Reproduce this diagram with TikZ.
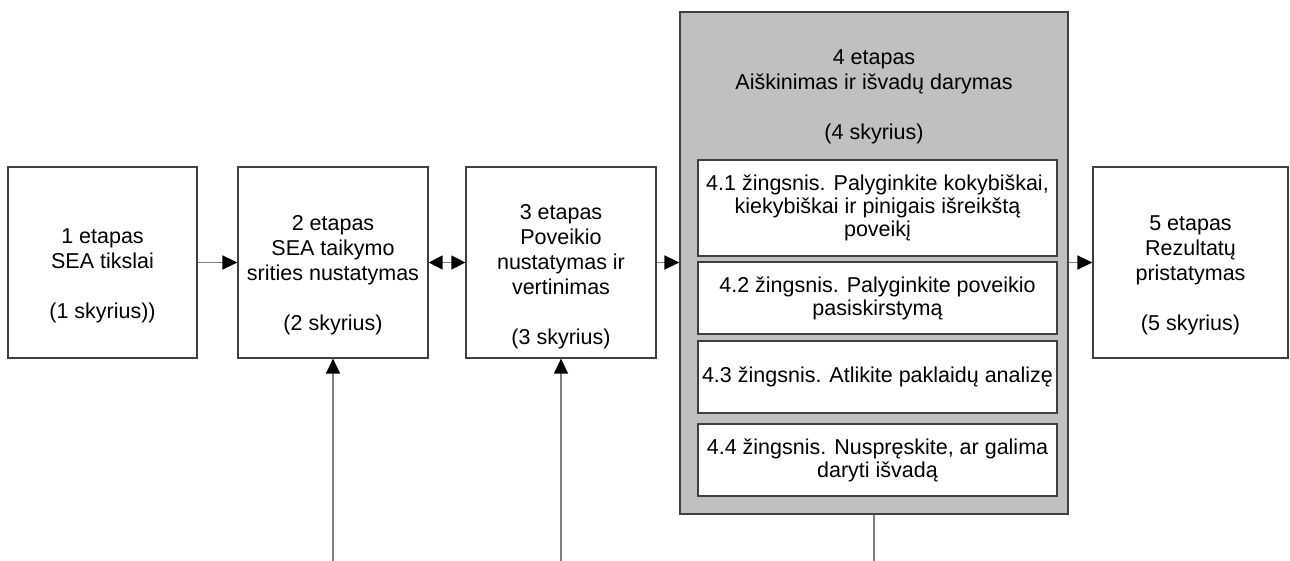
\documentclass[tikz,border=0pt]{standalone}
\usepackage{fontspec}
\setmainfont{Liberation Sans}
\usetikzlibrary{arrows.meta}
\definecolor{edge}{HTML}{404040}
\definecolor{wire}{HTML}{7F7F7F}
\definecolor{panel}{HTML}{C0C0C0}

\begin{document}
\begin{tikzpicture}[x=1pt,y=-1pt,
  box/.style={draw=edge, line width=1.2pt, fill=white, inner sep=0pt},
  stage/.style={box, minimum width=190pt, minimum height=191pt},
  stepbox/.style={box, minimum width=359pt, minimum height=72pt},
  label/.style={align=center, inner sep=0pt, font=\fontsize{21.5}{25}\selectfont},
  steplabel/.style={align=center, inner sep=0pt, font=\fontsize{21.5}{23}\selectfont},
  wire/.style={draw=wire, line width=1.3pt},
  tip/.style={wire, -{Triangle[length=15pt,width=14pt,color=black,fill=black]}},
  twotip/.style={wire, {Triangle[length=14pt,width=14pt,color=black,fill=black]}-{Triangle[length=14pt,width=14pt,color=black,fill=black]}}
]
\useasboundingbox (0,0) rectangle (1290,561);

% stage boxes
\node[stage, minimum width=189pt] (b1) at (102.5,262.5) {};
\node[stage] (b2) at (333,262.5) {};
\node[stage] (b3) at (561,262.5) {};
\node[box, fill=panel, minimum width=388pt, minimum height=502pt] (g) at (874,263) {};
\node[stage, minimum width=195pt] (b5) at (1190.5,262.5) {};

% steps inside stage 4
\node[stepbox, minimum height=96pt] (s1) at (877.5,208) {};
\node[stepbox] (s2) at (877.5,298) {};
\node[stepbox] (s3) at (877.5,377) {};
\node[stepbox] (s4) at (877.5,460) {};

% texts
\node[label] (t1) at (102.5,275.5) {1 etapas\\SEA tikslai\\[25pt](1 skyrius))};
\node[label] (t2) at (333,275) {2 etapas\\SEA taikymo\\srities nustatymas\\[25pt](2 skyrius)};
\node[label] (t3) at (561,276.5) {3 etapas\\Poveikio\\nustatymas ir\\vertinimas\\[25pt](3 skyrius)};
\node[label] (t4) at (874,97) {4 etapas\\Aiškinimas ir išvadų darymas\\[25pt](4 skyrius)};
\node[label] (t5) at (1190.5,275) {5 etapas\\Rezultatų\\pristatymas\\[25pt](5 skyrius)};

\node[steplabel] (u1) at (s1) {4.1 žingsnis. Palyginkite kokybiškai,\\kiekybiškai ir pinigais išreikštą\\poveikį};
\node[steplabel] (u2) at (s2) {4.2 žingsnis. Palyginkite poveikio\\pasiskirstymą};
\node[steplabel] (u3) at (s3) {4.3 žingsnis. Atlikite paklaidų analizę};
\node[steplabel] (u4) at (s4) {4.4 žingsnis. Nuspręskite, ar galima\\daryti išvadą};

% connectors
\draw[tip] (b1.east) -- (b2.west);
\draw[twotip] (b2.east) -- (b3.west);
\draw[tip] (b3.east) -- (b3.east -| g.west);
\draw[tip] (g.east |- b5.west) -- (b5.west);

\coordinate (in2) at (333,561);
\coordinate (in3) at (561,561);
\coordinate (out4) at (874,561);
\draw[tip] (in2) -- (b2.south);
\draw[tip] (in3) -- (b3.south);
\draw[wire] (g.south) -- (out4);
\end{tikzpicture}
\end{document}
